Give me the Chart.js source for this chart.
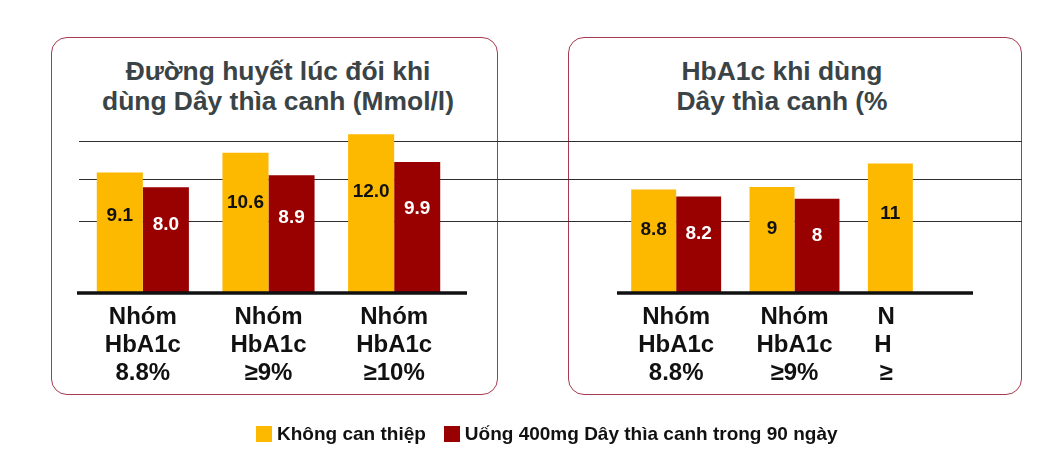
<!DOCTYPE html>
<html>
<head>
<meta charset="utf-8">
<script src="https://cdn.jsdelivr.net/npm/chart.js@4.4.1/dist/chart.umd.min.js"></script>
<style>
  html, body { margin: 0; padding: 0; background: #ffffff; }
  #stage { position: relative; width: 1049px; height: 460px; overflow: hidden; font-family: "Liberation Sans", Arial, sans-serif; }
  .panel { position: absolute; top: 37px; height: 358px; border: 1.5px solid #a83a50; border-radius: 16px; box-sizing: border-box; }
  .title { position: absolute; top: 57px; width: 420px; text-align: center; font-weight: bold; font-size: 26.4px; line-height: 29.5px; color: #3a4447; }
  canvas.layer { position: absolute; left: 0; top: 0; }
  #legend { position: absolute; top: 424px; left: 256px; font-weight: bold; font-size: 19px; color: #111; white-space: nowrap; line-height: 20px; }
  #legend .item { display: inline-block; margin-right: 18px; }
  #legend .sw { display: inline-block; width: 16px; height: 16px; vertical-align: -2px; margin-right: 5px; }
</style>
</head>
<body>
<div id="stage">
  <div class="panel" id="panelL" style="left:51px; width:447px;"></div>
  <div class="panel" id="panelR" style="left:568px; width:454px;"></div>
  <div class="title" style="left:68px;">Đường huyết lúc đói khi<br>dùng Dây thìa canh (Mmol/l)</div>
  <div class="title" style="left:572px;">HbA1c khi dùng<br>Dây thìa canh (%</div>
  <canvas id="cL" class="layer" width="1049" height="460"></canvas>
  <canvas id="cR" class="layer" width="1049" height="460"></canvas>
  <div id="legend"></div>
</div>
<script>
// ---- data ----
const seriesNames = ["Không can thiệp", "Uống 400mg Dây thìa canh trong 90 ngày"];
const seriesColors = ["#fdb800", "#990000"];
const labelColors = ["#111111", "#ffffff"];

const leftCategories = [["Nhóm", "HbA1c", "8.8%"], ["Nhóm", "HbA1c", "≥9%"], ["Nhóm", "HbA1c", "≥10%"]];
const leftControl = [9.1, 10.6, 12.0];
const leftTreated = [8.0, 8.9, 9.9];
const leftLabelsControl = ["9.1", "10.6", "12.0"];
const leftLabelsTreated = ["8.0", "8.9", "9.9"];

const rightCategories = [["Nhóm", "HbA1c", "8.8%"], ["Nhóm", "HbA1c", "≥9%"],
  ["N\u00a0\u00a0\u00a0\u00a0\u00a0\u00a0\u00a0\u00a0", "H\u00a0\u00a0\u00a0\u00a0\u00a0\u00a0\u00a0\u00a0\u00a0", "≥\u00a0\u00a0\u00a0\u00a0\u00a0\u00a0\u00a0\u00a0"]];
const rightControl = [8.8, 9, 11];
const rightTreated = [8.2, 8, null];
const rightLabelsControl = ["8.8", "9", "11"];
const rightLabelsTreated = ["8.2", "8", ""];

// decorative horizontal rules, in units of the left chart's value axis
const guideValues = [5.43, 8.6, 11.47];

// ---- plugins ----
const valueLabels = {
  id: 'valueLabels',
  afterDatasetsDraw(chart, args, opts) {
    const ctx = chart.ctx;
    ctx.save();
    ctx.font = 'bold 19px "Liberation Sans", Arial, sans-serif';
    ctx.textAlign = 'center';
    ctx.textBaseline = 'middle';
    chart.data.datasets.forEach((ds, di) => {
      const meta = chart.getDatasetMeta(di);
      meta.data.forEach((el, i) => {
        const txt = ds.valueText[i];
        if (!txt || ds.data[i] == null) return;
        const y = el.y + opts.frac * (el.base - el.y);
        ctx.fillStyle = ds.valueColor;
        ctx.fillText(txt, el.x, y);
      });
    });
    ctx.restore();
  }
};

const baseLine = {
  id: 'baseLine',
  afterDatasetsDraw(chart, args, opts) {
    const ctx = chart.ctx;
    const a = chart.chartArea;
    const y = chart.scales.y.getPixelForValue(0);
    ctx.save();
    ctx.strokeStyle = '#111';
    ctx.lineWidth = 3.5;
    ctx.beginPath();
    ctx.moveTo(a.left - opts.extLeft, y);
    ctx.lineTo(a.right + opts.extRight, y);
    ctx.stroke();
    ctx.restore();
  }
};

const guideRules = {
  id: 'guideRules',
  beforeDatasetsDraw(chart, args, opts) {
    if (!opts.values) return;
    const ctx = chart.ctx;
    const a = chart.chartArea;
    const stage = document.getElementById('stage').getBoundingClientRect();
    const pr = document.getElementById('panelR').getBoundingClientRect();
    const xEnd = pr.right - stage.left;
    ctx.save();
    ctx.strokeStyle = '#2e2e2e';
    ctx.lineWidth = 1.2;
    opts.values.forEach(v => {
      const y = Math.round(chart.scales.y.getPixelForValue(v)) + 0.5;
      ctx.beginPath();
      ctx.moveTo(a.left - 1, y);
      ctx.lineTo(xEnd, y);
      ctx.stroke();
    });
    ctx.restore();
  }
};

function makeChart(canvasId, cats, ctrl, trt, ctrlTxt, trtTxt, pad, catPct, frac, ext, guides) {
  return new Chart(document.getElementById(canvasId), {
    type: 'bar',
    data: {
      labels: cats,
      datasets: [
        { label: seriesNames[0], data: ctrl, backgroundColor: seriesColors[0], valueText: ctrlTxt, valueColor: labelColors[0] },
        { label: seriesNames[1], data: trt, backgroundColor: seriesColors[1], valueText: trtTxt, valueColor: labelColors[1] }
      ]
    },
    options: {
      responsive: false,
      animation: false,
      events: [],
      layout: { padding: pad },
      datasets: { bar: { barPercentage: 1, categoryPercentage: catPct, borderWidth: 0 } },
      plugins: {
        legend: { display: false },
        tooltip: { enabled: false },
        valueLabels: { frac: frac },
        baseLine: { extLeft: ext[0], extRight: ext[1] },
        guideRules: { values: guides }
      },
      scales: {
        x: {
          grid: { display: false, drawTicks: false },
          border: { display: false },
          ticks: {
            padding: 10,
            color: '#111',
            font: { family: '"Liberation Sans", Arial, sans-serif', weight: 'bold', size: 24, lineHeight: '28px' },
            maxRotation: 0, autoSkip: false
          },
          afterFit(scale) { scale.height = 100; }
        },
        y: { display: false, min: 0, max: 13 }
      }
    },
    plugins: [guideRules, valueLabels, baseLine]
  });
}

makeChart('cL', leftCategories, leftControl, leftTreated, leftLabelsControl, leftLabelsTreated,
  { left: 80, right: 592, top: 121, bottom: 67 }, 0.733, 0.36, [3, 10], guideValues);
makeChart('cR', rightCategories, rightControl, rightTreated, rightLabelsControl, rightLabelsTreated,
  { left: 617, right: 77, top: 140, bottom: 67 }, 0.76, 0.39, [0, 1], null);

// legend built from series arrays
const lg = document.getElementById('legend');
seriesNames.forEach((n, i) => {
  const it = document.createElement('span');
  it.className = 'item';
  const sw = document.createElement('span');
  sw.className = 'sw';
  sw.style.background = seriesColors[i];
  it.appendChild(sw);
  it.appendChild(document.createTextNode(n));
  lg.appendChild(it);
});
</script>
</body>
</html>
